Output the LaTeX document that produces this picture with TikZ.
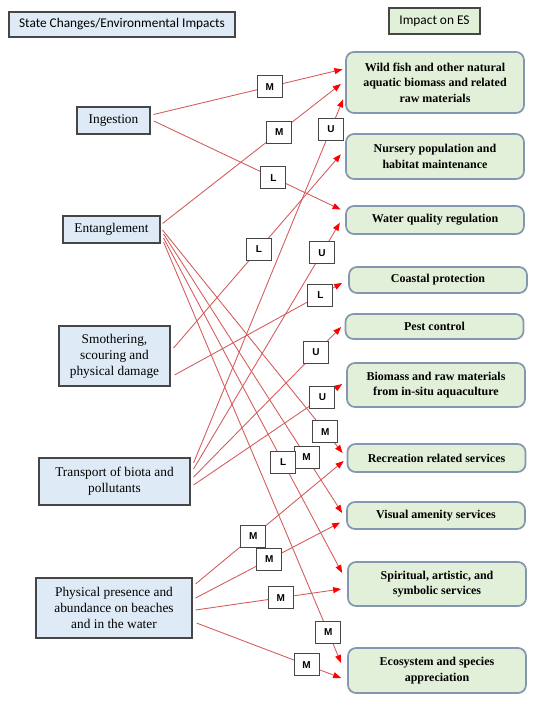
\documentclass[tikz,border=0pt]{standalone}
\usepackage{fontspec}
\setmainfont{Liberation Serif}
\newfontfamily\calibrifont{Carlito}
\newfontfamily\arialfont{Liberation Sans}
\usetikzlibrary{arrows.meta,calc}
\tikzset{every picture/.style={line width=0.75pt}}
\definecolor{stateblue}{RGB}{222,235,247}
\definecolor{esgreen}{RGB}{226,240,217}
\definecolor{edgegray}{RGB}{70,70,70}
\definecolor{edgeblue}{RGB}{132,151,176}
\definecolor{linkred}{RGB}{212,90,90}

\begin{document}
\begin{tikzpicture}[x=0.75pt,y=0.75pt,yscale=-1,xscale=1,
	statebox/.style={draw=edgegray,fill=stateblue,line width=0.8pt,align=center,inner sep=0pt,font=\fontsize{10}{12}\selectfont},
	esbox/.style={draw=edgeblue,fill=esgreen,line width=1.3pt,rounded corners=6pt,align=center,inner sep=0pt,minimum width=133.5pt,font=\fontsize{9}{11.6}\selectfont\bfseries},
	headbox/.style={draw=edgegray,line width=0.8pt,inner sep=0pt,font=\calibrifont\fontsize{10}{12}\selectfont},
	rating/.style={draw=edgegray,fill=white,line width=0.6pt,inner sep=0pt,minimum width=18.75pt,minimum height=16.5pt,font=\arialfont\bfseries\fontsize{7.5}{8}\selectfont},
	link/.style={draw=linkred,line width=0.65pt,-{Triangle[length=6pt,width=4.5pt,color=red]}}]
	\useasboundingbox (0,0) rectangle (554,708);
	
	%Shape: Rectangle [headers]
	\node [headbox,fill=stateblue,minimum width=169.5pt,minimum height=18.75pt] (heads) at (122,24.5) {State Changes/Environmental Impacts};
	\node [headbox,fill=esgreen,minimum width=68.25pt,minimum height=19.5pt] (heades) at (434.5,21) {Impact on ES};
	
	%Shape: Rectangle [state changes]
	\node [statebox,minimum width=54.75pt,minimum height=20.25pt] (ing) at (113.5,120.5) {Ingestion};
	\node [statebox,minimum width=72.75pt,minimum height=20.25pt] (ent) at (111.5,229.5) {Entanglement};
	\node [statebox,minimum width=83.25pt,minimum height=45pt] (smo) at (114.5,356) {Smothering,\\scouring and\\physical damage};
	\node [statebox,minimum width=113.25pt,minimum height=35.25pt] (tra) at (114.5,481.5) {Transport of biota and\\pollutants};
	\node [statebox,minimum width=117pt,minimum height=45pt] (phy) at (114,608) {Physical presence and\\abundance on beaches\\and in the water};
	
	%Shape: Rounded Rectangle [ecosystem services]
	\node [esbox,minimum height=45.75pt] (wild) at (435,82.5) {Wild fish and other natural\\aquatic biomass and related\\raw materials};
	\node [esbox,minimum height=33.75pt] (nurs) at (435,156.5) {Nursery population and\\habitat maintenance};
	\node [esbox,minimum height=21pt] (water) at (435,220) {Water quality regulation};
	\node [esbox,minimum height=19.5pt] (coast) at (438,280) {Coastal protection};
	\node [esbox,minimum height=18.75pt] (pest) at (434.5,326.5) {Pest control};
	\node [esbox,minimum height=33pt] (bio) at (436,385) {Biomass and raw materials\\from in-situ aquaculture};
	\node [esbox,minimum height=21pt] (rec) at (436.5,458) {Recreation related services};
	\node [esbox,minimum height=20.25pt] (vis) at (436,515.5) {Visual amenity services};
	\node [esbox,minimum height=33pt] (spi) at (437,584) {Spiritual, artistic, and\\symbolic services};
	\node [esbox,minimum height=33.75pt] (eco) at (437,670.5) {Ecosystem and species\\appreciation};
	
	%Straight Lines [impacts]
	\draw [link] ($(ing.east)+(3,-6)$) -- coordinate[pos=0.615] (r1) ($(wild.west)+(-2.7,-13.2)$);
	\draw [link] ($(ing.east)+(3.3,0.5)$) -- coordinate[pos=0.64] (r2) ($(water.west)+(-4.5,-10.5)$);
	\draw [link] ($(ent.east)+(2,-6)$) -- coordinate[pos=0.655] (r3) ($(wild.west)+(-4.3,1.5)$);
	\draw [link] ($(ent.east)+(2,0.5)$) -- coordinate[pos=0.904] (r4) ($(rec.west)+(-4,-5)$);
	\draw [link] ($(ent.east)+(3,4.5)$) -- coordinate[pos=0.80] (r5) ($(vis.west)+(-4,-2.5)$);
	\draw [link] ($(ent.east)+(3,8.5)$) -- coordinate[pos=0.67] (r6) ($(spi.west)+(-5,-11)$);
	\draw [link] ($(ent.east)+(3,12.5)$) -- coordinate[pos=0.927] (r7) ($(eco.west)+(-6,-7.5)$);
	\draw [link] ($(smo.east)+(3,-8)$) -- coordinate[pos=0.51] (r8) ($(nurs.west)+(-4.3,-2.2)$);
	\draw [link] ($(smo.east)+(4,19)$) -- coordinate[pos=0.87] (r9) ($(coast.west)+(-6,3)$);
	\draw [link] ($(tra.east)+(3,-18.5)$) -- coordinate[pos=0.918] (r10) ($(wild.west)+(-2,16.8)$);
	\draw [link] ($(tra.east)+(3,-12.5)$) -- coordinate[pos=0.878] (r11) ($(water.west)+(-5.3,2.7)$);
	\draw [link] ($(tra.east)+(3,-4.5)$) -- coordinate[pos=0.83] (r12) ($(pest.west)+(-3.5,0.5)$);
	\draw [link] ($(tra.east)+(3,3.5)$) -- coordinate[pos=0.867] (r13) ($(bio.west)+(-4,-1)$);
	\draw [link] ($(phy.east)+(3,-24)$) -- coordinate[pos=0.39] (r14) ($(rec.west)+(-3,3)$);
	\draw [link] ($(phy.east)+(3,-10)$) -- coordinate[pos=0.51] (r15) ($(vis.west)+(-6,7)$);
	\draw [link] ($(phy.east)+(3,2)$) -- coordinate[pos=0.585] (r16) ($(spi.west)+(-6,5)$);
	\draw [link] ($(phy.east)+(4,15)$) -- coordinate[pos=0.76] (r17) ($(eco.west)+(-6,7.5)$);
	
	% Text Node [ratings]
	\node [rating] (m1) at (r1) {M};
	\node [rating] (l2) at (r2) {L};
	\node [rating] (m3) at (r3) {M};
	\node [rating] (m4) at (r4) {M};
	\node [rating] (m5) at (r5) {M};
	\node [rating] (l6) at (r6) {L};
	\node [rating] (m7) at (r7) {M};
	\node [rating] (l8) at (r8) {L};
	\node [rating] (l9) at (r9) {L};
	\node [rating] (u10) at (r10) {U};
	\node [rating] (u11) at (r11) {U};
	\node [rating] (u12) at (r12) {U};
	\node [rating] (u13) at (r13) {U};
	\node [rating] (m14) at (r14) {M};
	\node [rating] (m15) at (r15) {M};
	\node [rating] (m16) at (r16) {M};
	\node [rating] (m17) at (r17) {M};
\end{tikzpicture}
\end{document}
